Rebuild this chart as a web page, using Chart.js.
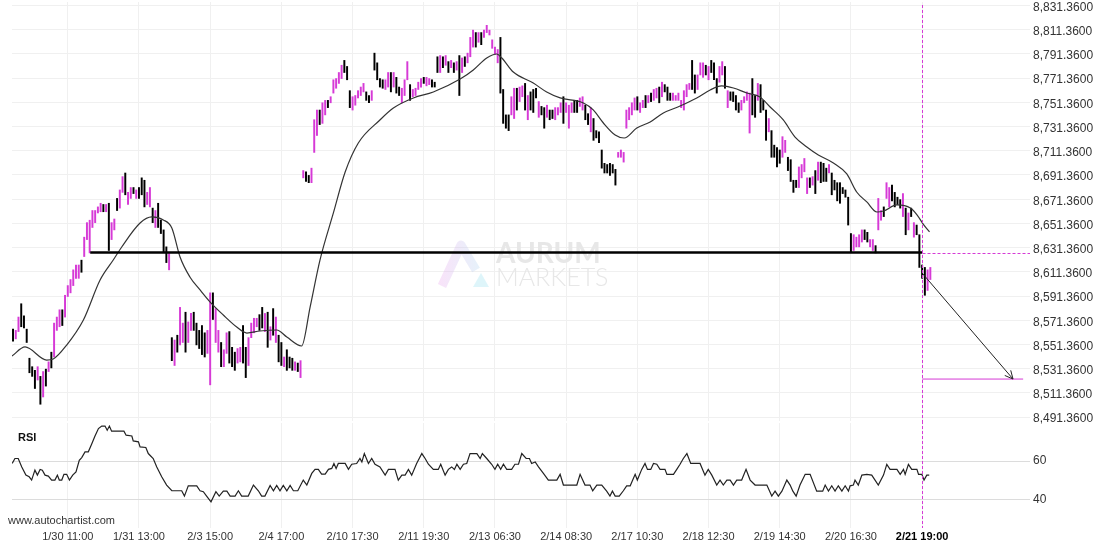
<!DOCTYPE html>
<html>
<head>
<meta charset="utf-8">
<script src="https://cdn.jsdelivr.net/npm/chart.js@4.4.1/dist/chart.umd.min.js"></script>
<style>
html, body { margin: 0; padding: 0; background: #fff; width: 1110px; height: 550px; overflow: hidden; }
#priceChart { position: absolute; left: 0; top: -20px; }
#rsiChart { position: absolute; left: 0; top: 400px; }
</style>
</head>
<body>
<canvas id="priceChart" width="1110" height="460"></canvas>
<canvas id="rsiChart" width="1110" height="150"></canvas>
<script>
var FONT = '"Liberation Sans", Arial, sans-serif';
var MAGENTA = '#d63ad6';

// x axis labels sit on these bar numbers
var timeLabels = ['1/30 11:00', '1/31 13:00', '2/3 15:00', '2/4 17:00', '2/10 17:30', '2/11 19:30',
    '2/13 06:30', '2/14 08:30', '2/17 10:30', '2/18 12:30', '2/19 14:30', '2/20 16:30', '2/21 19:00'];
var labelIndex = [20, 46, 72, 98, 124, 150, 176, 202, 228, 254, 280, 306, 332];

var priceTicks = [8491.36, 8511.36, 8531.36, 8551.36, 8571.36, 8591.36, 8611.36, 8631.36, 8651.36,
    8671.36, 8691.36, 8711.36, 8731.36, 8751.36, 8771.36, 8791.36, 8811.36, 8831.36];
var rsiTicks = [40, 60];

// hourly bars
var barHigh = [
    8564, 8563, 8574, 8585, 8575, 8564, 8540, 8533, 8530, 8533,
    8525, 8529, 8531, 8537, 8545, 8569, 8574, 8580, 8580, 8592,
    8600, 8605, 8613, 8617, 8617, 8621, 8640, 8652, 8654, 8662,
    8662, 8665, 8668, 8667, 8667, 8668, 8652, 8655, 8672, 8679,
    8690, 8693, 8677, 8681, 8681, 8679, 8681, 8689, 8687, 8677,
    8681, 8664, 8662, 8668, 8654, 8646, 8632, 8627, 8557, 8555,
    8559, 8582, 8569, 8578, 8570, 8577, 8578, 8569, 8563, 8567,
    8561, 8563, 8594, 8594, 8581, 8563, 8553, 8547, 8561, 8562,
    8549, 8545, 8548, 8549, 8567, 8549, 8557, 8569, 8573, 8573,
    8576, 8582, 8577, 8578, 8566, 8581, 8574, 8559, 8553, 8541,
    8547, 8541, 8540, 8537, 8536, 8538, 8695, 8694, 8691, 8697,
    8737, 8745, 8745, 8751, 8753, 8753, 8756, 8770, 8771, 8776,
    8782, 8786, 8781, 8761, 8756, 8757, 8761, 8764, 8767, 8760,
    8757, 8761, 8792, 8784, 8771, 8770, 8770, 8776, 8776, 8776,
    8772, 8764, 8763, 8770, 8785, 8766, 8762, 8763, 8768, 8771,
    8772, 8772, 8771, 8770, 8768, 8789, 8790, 8789, 8790, 8785,
    8786, 8784, 8785, 8790, 8788, 8789, 8792, 8805, 8811, 8809,
    8809, 8809, 8811, 8815, 8811, 8803, 8797, 8795, 8805, 8762,
    8741, 8741, 8756, 8763, 8763, 8764, 8765, 8767, 8757, 8760,
    8762, 8763, 8752, 8748, 8747, 8749, 8745, 8745, 8747, 8747,
    8751, 8756, 8751, 8749, 8751, 8753, 8753, 8755, 8756, 8749,
    8742, 8747, 8738, 8728, 8727, 8712, 8701, 8700, 8701, 8700,
    8696, 8710, 8712, 8710, 8745, 8747, 8751, 8755, 8756, 8751,
    8753, 8757, 8757, 8759, 8762, 8763, 8764, 8768, 8766, 8764,
    8759, 8759, 8757, 8759, 8753, 8761, 8766, 8767, 8786, 8774,
    8774, 8784, 8784, 8782, 8781, 8786, 8784, 8771, 8781, 8785,
    8781, 8761, 8760, 8760, 8757, 8751, 8753, 8756, 8760, 8759,
    8771, 8757, 8767, 8766, 8753, 8745, 8738, 8728, 8716, 8714,
    8712, 8723, 8720, 8706, 8704, 8687, 8687, 8698, 8700, 8705,
    8689, 8689, 8690, 8695, 8702, 8702, 8701, 8697, 8700, 8693,
    8687, 8685, 8685, 8681, 8679, 8673, 8643, 8642, 8640, 8642,
    8646, 8646, 8644, 8638, 8638, 8633, 8672, 8662, 8665, 8685,
    8681, 8683, 8677, 8673, 8671, 8676, 8664, 8660, 8664, 8652,
    8650, 8642, 8617, 8615, 8613, 8615
];
var barLow = [
    8554, 8556, 8562, 8566, 8565, 8553, 8528, 8525, 8515, 8522,
    8502, 8508, 8517, 8529, 8532, 8541, 8563, 8566, 8567, 8574,
    8591, 8594, 8600, 8606, 8606, 8611, 8624, 8638, 8627, 8648,
    8652, 8660, 8661, 8661, 8661, 8629, 8638, 8646, 8662, 8664,
    8677, 8675, 8667, 8672, 8676, 8672, 8672, 8675, 8665, 8667,
    8665, 8652, 8648, 8648, 8643, 8628, 8619, 8613, 8538, 8534,
    8545, 8551, 8553, 8545, 8553, 8563, 8563, 8551, 8548, 8543,
    8541, 8544, 8518, 8572, 8553, 8545, 8533, 8533, 8544, 8536,
    8533, 8530, 8536, 8537, 8536, 8524, 8534, 8557, 8561, 8566,
    8563, 8565, 8562, 8549, 8555, 8559, 8553, 8537, 8534, 8533,
    8530, 8532, 8530, 8530, 8529, 8524, 8689, 8686, 8685, 8685,
    8710, 8724, 8733, 8734, 8741, 8747, 8751, 8759, 8763, 8767,
    8771, 8776, 8770, 8747, 8745, 8749, 8755, 8757, 8760, 8753,
    8751, 8753, 8778, 8770, 8764, 8763, 8762, 8764, 8760, 8764,
    8759, 8757, 8751, 8757, 8770, 8753, 8756, 8757, 8762, 8764,
    8767, 8765, 8766, 8764, 8764, 8776, 8776, 8780, 8782, 8776,
    8780, 8776, 8778, 8757, 8776, 8781, 8784, 8789, 8797, 8797,
    8801, 8799, 8805, 8809, 8807, 8796, 8791, 8784, 8759, 8734,
    8730, 8728, 8741, 8738, 8745, 8752, 8756, 8745, 8737, 8745,
    8743, 8755, 8739, 8741, 8730, 8739, 8737, 8738, 8737, 8741,
    8743, 8734, 8743, 8730, 8743, 8743, 8743, 8748, 8745, 8737,
    8733, 8727, 8720, 8722, 8718, 8697, 8693, 8693, 8691, 8693,
    8683, 8706, 8706, 8702, 8730, 8737, 8741, 8745, 8745, 8743,
    8747, 8747, 8751, 8752, 8753, 8755, 8751, 8756, 8760, 8753,
    8753, 8753, 8753, 8753, 8747, 8745, 8756, 8762, 8762, 8759,
    8762, 8774, 8772, 8774, 8770, 8776, 8770, 8759, 8768, 8774,
    8763, 8747, 8753, 8752, 8745, 8743, 8745, 8751, 8753, 8726,
    8741, 8739, 8753, 8743, 8745, 8720, 8727, 8706, 8706, 8698,
    8701, 8706, 8710, 8695, 8686, 8677, 8681, 8681, 8689, 8694,
    8676, 8681, 8683, 8676, 8687, 8685, 8686, 8686, 8693, 8675,
    8679, 8670, 8668, 8676, 8673, 8650, 8628, 8629, 8632, 8632,
    8636, 8638, 8636, 8632, 8629, 8627, 8646, 8654, 8657, 8672,
    8665, 8670, 8665, 8667, 8664, 8657, 8642, 8646, 8657, 8640,
    8642, 8615, 8606, 8592, 8596, 8605
];
// 1 = up bar (magenta), 0 = down bar (black)
var barUp = [
    0, 1, 1, 0, 0, 0, 0, 0, 0, 1,  0, 1, 0, 1, 0, 1, 1, 1, 0, 1,
    1, 1, 1, 1, 1, 0, 1, 1, 1, 1,  1, 1, 1, 0, 1, 0, 1, 1, 0, 1,
    1, 0, 1, 1, 0, 1, 0, 0, 0, 1,  1, 0, 1, 0, 0, 0, 0, 1, 0, 1,
    0, 1, 1, 0, 1, 1, 0, 0, 0, 0,  0, 1, 1, 0, 1, 1, 0, 1, 1, 0,
    0, 0, 1, 1, 0, 0, 1, 1, 1, 1,  0, 0, 1, 0, 1, 0, 1, 0, 0, 1,
    0, 0, 0, 1, 0, 1, 1, 0, 0, 1,  1, 1, 0, 1, 1, 0, 1, 1, 1, 1,
    1, 0, 0, 0, 1, 1, 1, 1, 1, 0,  0, 1, 0, 0, 0, 0, 1, 1, 0, 1,
    0, 0, 1, 1, 1, 0, 1, 1, 1, 1,  0, 1, 1, 0, 0, 0, 1, 0, 1, 0,
    1, 0, 1, 0, 1, 0, 1, 1, 1, 0,  1, 0, 1, 1, 1, 1, 1, 1, 0, 0,
    0, 0, 1, 1, 0, 1, 1, 0, 1, 0,  0, 0, 1, 0, 0, 1, 0, 0, 1, 1,
    1, 0, 1, 1, 1, 0, 0, 1, 1, 0,  0, 1, 0, 0, 0, 0, 0, 0, 0, 0,
    0, 1, 1, 1, 1, 1, 1, 1, 0, 1,  1, 0, 1, 0, 1, 1, 0, 1, 0, 0,
    0, 1, 1, 1, 1, 1, 1, 1, 0, 0,  1, 1, 1, 0, 1, 0, 0, 0, 1, 1,
    0, 1, 0, 0, 0, 0, 1, 1, 1, 1,  0, 0, 1, 0, 0, 0, 1, 0, 0, 0,
    0, 1, 1, 0, 0, 0, 0, 1, 1, 1,  1, 0, 1, 0, 1, 0, 0, 0, 1, 0,
    0, 0, 0, 0, 0, 0, 0, 1, 1, 1,  1, 0, 0, 1, 1, 0, 1, 1, 0, 1,
    1, 0, 0, 0, 0, 1, 0, 1, 0, 1,  0, 0, 0, 0, 1, 1
];

// moving average, [bar, price]
var maPoints = [
    [-0.4, 8541.8], [4.4, 8549.3], [12.3, 8538.5], [14.7, 8539.4], [19.6, 8550.9], [25.7, 8571.6],
    [31.8, 8604.6], [36.6, 8621.1], [39.7, 8631.9], [46.4, 8651.7], [50.7, 8656.7], [54.9, 8654.2],
    [58.0, 8647.6], [61.0, 8623.6], [64.6, 8607.1], [68.3, 8596.4], [72.0, 8586.4], [76.8, 8575.7],
    [81.7, 8565.8], [85.4, 8560.8], [90.2, 8562.5], [96.3, 8563.3], [100.0, 8557.5], [105.4, 8550.1],
    [108.5, 8582.3], [112.1, 8621.1], [117.0, 8660.0], [121.3, 8693.8], [126.1, 8717.8], [134.0, 8736.8],
    [138.9, 8746.7], [146.2, 8755.0], [153.5, 8759.9], [163.3, 8770.6], [168.1, 8778.1], [173.0, 8788.0],
    [176.7, 8791.3], [178.5, 8788.0], [182.7, 8776.4], [190.0, 8767.3], [194.9, 8759.9], [199.8, 8755.0],
    [208.3, 8750.8], [211.9, 8745.1], [215.6, 8734.3], [219.9, 8724.4], [223.2, 8721.9], [227.8, 8730.2],
    [232.7, 8735.1], [237.5, 8742.6], [243.6, 8748.3], [249.7, 8755.0], [254.6, 8761.6], [258.8, 8764.9],
    [263.1, 8763.2], [268.0, 8759.1], [272.8, 8755.8], [276.5, 8747.5], [281.3, 8736.8], [285.6, 8722.7],
    [289.9, 8714.5], [294.1, 8707.9], [299.6, 8701.3], [304.5, 8692.2], [308.1, 8677.3], [311.8, 8669.1],
    [315.5, 8660.8], [317.9, 8661.6], [322.8, 8666.6], [327.7, 8664.1], [330.2, 8658.3], [332.6, 8650.1],
    [334.7, 8644.3]
];

// RSI, [bar, value]
var rsiPoints = [
    [-0.3, 58.8], [0.7, 61.4], [1.9, 61.4], [3.2, 57.0], [4.7, 52.7], [5.9, 51.8], [6.8, 50.1], [8.0, 55.3],
    [8.9, 52.7], [9.9, 55.7], [10.7, 55.3], [11.7, 52.7], [12.9, 52.2], [14.1, 50.1], [15.3, 50.1], [16.2, 52.7],
    [16.9, 50.1], [17.8, 50.1], [18.6, 53.1], [19.6, 53.1], [20.6, 50.1], [21.8, 52.7], [23.0, 54.4], [24.2, 60.5],
    [25.1, 61.9], [26.3, 64.9], [27.5, 64.9], [28.7, 68.9], [29.9, 73.1], [31.2, 77.1], [32.4, 78.4], [33.6, 78.4],
    [34.4, 76.2], [35.2, 78.4], [36.0, 75.7], [40.5, 75.7], [41.3, 73.6], [43.4, 73.2], [43.9, 70.6], [45.8, 70.1],
    [46.4, 67.5], [48.5, 67.2], [49.4, 64.0], [51.2, 61.4], [52.5, 57.0], [54.3, 51.8], [56.1, 47.5], [58.0, 44.5],
    [61.6, 44.5], [62.6, 41.7], [64.0, 47.1], [67.1, 47.1], [68.3, 44.5], [69.5, 44.0], [70.7, 41.7], [72.3, 38.7],
    [74.1, 44.0], [75.3, 41.7], [76.8, 44.3], [78.1, 44.3], [79.3, 41.7], [81.1, 41.7], [82.3, 44.5], [83.5, 41.7],
    [85.9, 41.7], [87.8, 47.5], [89.6, 44.5], [90.8, 41.7], [92.0, 41.7], [93.9, 47.3], [95.1, 44.5], [96.3, 47.3],
    [97.5, 44.5], [98.7, 47.3], [100.0, 44.5], [101.2, 47.3], [102.4, 44.5], [104.0, 44.5], [106.0, 50.1], [107.3, 47.5],
    [109.1, 53.6], [110.3, 55.7], [111.5, 55.7], [112.7, 53.2], [114.0, 53.2], [115.2, 55.7], [116.4, 56.2], [117.2, 58.8],
    [118.0, 56.2], [118.8, 58.8], [121.3, 58.8], [122.5, 55.7], [123.7, 58.4], [125.5, 58.8], [126.7, 61.4], [127.4, 59.6],
    [128.3, 64.0], [129.8, 58.8], [131.0, 61.4], [132.2, 58.4], [134.0, 57.0], [135.9, 52.7], [137.1, 55.7], [139.5, 55.7],
    [140.7, 50.1], [142.0, 52.7], [143.2, 52.7], [144.4, 55.7], [145.6, 52.7], [147.4, 58.8], [149.3, 64.0], [150.5, 61.4],
    [151.7, 58.4], [153.5, 55.7], [155.3, 55.7], [156.2, 58.4], [157.8, 52.7], [159.0, 55.7], [160.2, 57.0], [161.2, 55.7],
    [162.1, 58.4], [163.3, 55.7], [164.5, 58.4], [165.7, 58.8], [166.9, 64.0], [169.4, 64.0], [170.6, 61.4], [171.4, 64.0],
    [173.0, 61.4], [174.8, 58.4], [176.0, 55.7], [177.0, 58.4], [178.1, 55.7], [179.1, 58.4], [180.3, 55.7], [182.1, 55.7],
    [183.3, 58.4], [184.6, 58.4], [185.8, 64.0], [187.4, 61.4], [188.6, 61.4], [189.4, 58.8], [190.7, 59.6], [191.9, 57.0],
    [193.7, 53.6], [195.5, 50.1], [198.6, 50.1], [199.8, 53.1], [201.0, 47.5], [205.9, 47.5], [207.1, 53.1], [208.9, 47.5],
    [210.7, 47.5], [211.7, 44.5], [213.2, 47.5], [215.0, 47.5], [216.8, 44.3], [218.0, 41.7], [218.9, 44.3], [219.9, 41.7],
    [221.4, 41.7], [222.9, 44.5], [224.1, 47.1], [225.4, 47.1], [227.2, 53.1], [228.0, 50.1], [229.6, 55.7], [230.8, 58.8],
    [231.7, 55.7], [232.9, 55.7], [233.9, 58.8], [235.1, 58.4], [236.3, 55.7], [238.1, 55.7], [238.8, 53.1], [241.2, 53.1],
    [242.4, 55.7], [243.6, 58.4], [244.8, 61.4], [246.1, 64.0], [247.5, 58.8], [250.9, 58.8], [252.7, 52.7], [253.9, 55.7],
    [255.2, 52.7], [257.0, 47.5], [258.2, 50.1], [259.4, 47.5], [260.7, 50.1], [261.9, 50.1], [263.1, 47.5], [264.3, 50.1],
    [266.1, 50.1], [267.7, 55.7], [269.2, 50.1], [271.0, 47.5], [275.3, 47.5], [277.1, 41.7], [278.3, 44.3], [279.5, 41.7],
    [280.8, 44.3], [282.6, 50.1], [283.8, 47.5], [284.8, 44.3], [286.0, 41.7], [287.4, 47.5], [289.3, 53.1], [291.1, 53.1],
    [293.5, 44.3], [295.7, 44.3], [296.6, 47.5], [297.8, 44.3], [299.0, 47.1], [300.2, 44.3], [301.4, 47.1], [302.7, 44.3],
    [303.9, 47.1], [305.1, 44.3], [305.7, 47.1], [306.9, 47.5], [307.5, 50.1], [308.7, 47.5], [310.0, 52.7], [311.8, 53.1],
    [313.6, 52.7], [316.0, 47.5], [317.9, 52.7], [319.1, 58.3], [320.3, 55.7], [322.8, 55.7], [324.0, 53.1], [325.2, 55.7],
    [325.8, 53.1], [327.0, 58.3], [328.2, 55.7], [330.1, 55.7], [330.7, 53.1], [331.9, 53.1], [332.7, 50.1], [333.7, 52.7],
    [334.6, 52.7]
];

// pattern marks
var supportLevel = 8627.3;
var supportStart = 28.2;
var signalIndex = 332;
var arrowStartPrice = 8610.4;
var targetLevel = 8522.8;
var targetIndex = 365.2;
var targetLineEnd = 368.9;

// axis ranges
var X_MIN = -0.37, X_MAX = 371.4;
var PRICE_MIN = 8488.15, PRICE_MAX = 8834.25;
var RSI_MIN = 25, RSI_MAX = 80;

function fmtPrice(v) {
    return v.toLocaleString('en-US', { minimumFractionDigits: 4, maximumFractionDigits: 4 });
}
function xpx(chart, v) { return chart.scales.x.getPixelForValue(v); }

var signalMarks = {
    id: 'signalMarks',
    afterDatasetsDraw: function (chart, args, opts) {
        var c = chart.ctx, a = chart.chartArea;
        var sx = Math.round(xpx(chart, signalIndex)) + 0.5;
        c.save();
        c.strokeStyle = MAGENTA;
        c.lineWidth = 1;
        c.setLineDash([3, 2]);
        c.beginPath();
        c.moveTo(sx, a.top + opts.topOffset);
        c.lineTo(sx, a.bottom);
        c.stroke();
        if (opts.withTarget) {
            var ly = Math.round(chart.scales.y.getPixelForValue(supportLevel)) + 0.5;
            c.beginPath();
            c.moveTo(sx, ly);
            c.lineTo(a.right, ly);
            c.stroke();
            // arrow head
            c.setLineDash([]);
            c.strokeStyle = '#222';
            var ex = xpx(chart, targetIndex), ey = chart.scales.y.getPixelForValue(targetLevel);
            var bx = xpx(chart, signalIndex), by = chart.scales.y.getPixelForValue(arrowStartPrice);
            var ang = Math.atan2(ey - by, ex - bx);
            c.beginPath();
            c.moveTo(ex - 9 * Math.cos(ang - 0.45), ey - 9 * Math.sin(ang - 0.45));
            c.lineTo(ex, ey);
            c.lineTo(ex - 9 * Math.cos(ang + 0.45), ey - 9 * Math.sin(ang + 0.45));
            c.stroke();
        }
        c.restore();
    }
};

var watermark = {
    id: 'watermark',
    beforeDatasetsDraw: function (chart) {
        var c = chart.ctx;
        c.save();
        var g = c.createLinearGradient(437, 0, 488, 0);
        g.addColorStop(0, 'rgba(236,160,236,0.30)');
        g.addColorStop(1, 'rgba(160,220,240,0.30)');
        c.strokeStyle = g;
        c.lineWidth = 9;
        c.lineJoin = 'round';
        c.beginPath();
        c.moveTo(442, 306);
        c.lineTo(461, 265);
        c.lineTo(476, 290);
        c.stroke();
        c.fillStyle = 'rgba(160,225,240,0.35)';
        c.beginPath();
        c.moveTo(473, 307);
        c.lineTo(489, 307);
        c.lineTo(481, 293);
        c.closePath();
        c.fill();
        c.fillStyle = '#e7e7e7';
        c.font = 'bold 28px Lato, "Open Sans", sans-serif';
        c.fillText('AURUM', 496, 283);
        c.font = '300 25px Lato, "Open Sans", sans-serif';
        c.fillText('MARKETS', 496, 306);
        c.restore();
    }
};

var rsiText = {
    id: 'rsiText',
    afterDraw: function (chart) {
        var c = chart.ctx;
        c.save();
        c.textBaseline = 'middle';
        c.fillStyle = '#111';
        c.font = 'bold 11px ' + FONT;
        c.fillText('RSI', 18, 38);
        c.fillStyle = '#333';
        c.font = '11px ' + FONT;
        c.fillText('www.autochartist.com', 8, 121);
        c.restore();
    }
};

var bars = [];
for (var i = 0; i < barHigh.length; i++) {
    bars.push({ x: i, y: [barLow[i], barHigh[i]] });
}

var priceChart = new Chart(document.getElementById('priceChart'), {
    type: 'bar',
    data: {
        datasets: [
            {
                type: 'line', data: [{ x: supportStart, y: supportLevel }, { x: signalIndex, y: supportLevel }],
                borderColor: '#000', borderWidth: 2.5, pointRadius: 0, order: 1
            },
            {
                type: 'line', data: [{ x: signalIndex, y: targetLevel }, { x: targetLineEnd, y: targetLevel }],
                borderColor: MAGENTA, borderWidth: 1, pointRadius: 0, order: 1
            },
            {
                type: 'line', data: [{ x: signalIndex, y: arrowStartPrice }, { x: targetIndex, y: targetLevel }],
                borderColor: '#222', borderWidth: 1, pointRadius: 0, order: 1
            },
            {
                type: 'line', data: maPoints.map(function (p) { return { x: p[0], y: p[1] }; }),
                borderColor: '#333', borderWidth: 1.2, pointRadius: 0, cubicInterpolationMode: 'monotone', order: 2
            },
            {
                data: bars,
                backgroundColor: barUp.map(function (u) { return u ? MAGENTA : '#000'; }),
                borderWidth: 0, barThickness: 1.3, grouped: false, order: 3
            }
        ]
    },
    options: {
        responsive: false,
        animation: false,
        layout: { padding: { left: 12, right: 0, top: 22, bottom: 19 } },
        plugins: {
            legend: { display: false },
            tooltip: { enabled: false },
            signalMarks: { topOffset: 3, withTarget: true }
        },
        scales: {
            x: {
                type: 'linear', min: X_MIN, max: X_MAX, offset: false,
                afterBuildTicks: function (s) { s.ticks = labelIndex.map(function (v) { return { value: v }; }); },
                ticks: { display: false },
                grid: { color: '#f0f0f0', drawTicks: false, offset: false },
                border: { display: false },
                afterFit: function (s) { s.height = 0; }
            },
            y: {
                position: 'right', min: PRICE_MIN, max: PRICE_MAX,
                afterBuildTicks: function (s) { s.ticks = priceTicks.map(function (v) { return { value: v }; }); },
                ticks: { color: '#333', padding: 3, labelOffset: 2, font: { size: 12, family: FONT }, callback: fmtPrice },
                grid: { color: '#f0f0f0', drawTicks: false },
                border: { display: false },
                afterFit: function (s) { s.width = 80; }
            }
        }
    },
    plugins: [watermark, signalMarks]
});

var rsiChart = new Chart(document.getElementById('rsiChart'), {
    type: 'line',
    data: {
        datasets: [{
            data: rsiPoints.map(function (p) { return { x: p[0], y: p[1] }; }),
            borderColor: '#222', borderWidth: 1.2, pointRadius: 0, tension: 0
        }]
    },
    options: {
        responsive: false,
        animation: false,
        layout: { padding: { left: 12, right: 0, top: 23, bottom: 0 } },
        plugins: {
            legend: { display: false },
            tooltip: { enabled: false },
            signalMarks: { topOffset: -2, withTarget: false }
        },
        scales: {
            x: {
                type: 'linear', min: X_MIN, max: X_MAX, offset: false,
                afterBuildTicks: function (s) { s.ticks = labelIndex.map(function (v) { return { value: v }; }); },
                ticks: {
                    autoSkip: false, maxRotation: 0, padding: 2,
                    color: function (ctx) { return ctx.index === timeLabels.length - 1 ? '#000' : '#333'; },
                    font: function (ctx) {
                        return { size: 11, family: FONT, weight: ctx.index === timeLabels.length - 1 ? 'bold' : 'normal' };
                    },
                    callback: function (v, idx) { return timeLabels[idx]; }
                },
                grid: { color: '#f0f0f0', drawTicks: false, offset: false },
                border: { display: false },
                afterFit: function (s) { s.height = 22; }
            },
            y: {
                position: 'right', min: RSI_MIN, max: RSI_MAX,
                afterBuildTicks: function (s) { s.ticks = rsiTicks.map(function (v) { return { value: v }; }); },
                ticks: { color: '#333', padding: 3, font: { size: 12, family: FONT } },
                grid: { color: '#dcdcdc', drawTicks: false },
                border: { display: false },
                afterFit: function (s) { s.width = 80; }
            }
        }
    },
    plugins: [signalMarks, rsiText]
});
</script>
</body>
</html>
